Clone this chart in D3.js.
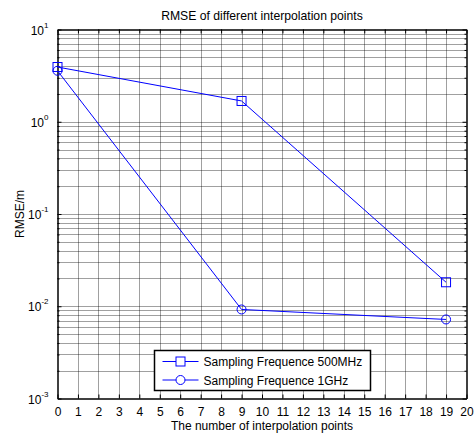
<!DOCTYPE html>
<head>
<meta charset="utf-8">
<script src="https://d3js.org/d3.v7.min.js"></script>
<style>
  body { margin: 0; background: #fff; font-family: "Liberation Sans", Arial, sans-serif; }
  .grid line { stroke: #000; stroke-width: 1px; stroke-dasharray: 1,1; stroke-opacity: 0.75; }
  .axis text { font-size: 12px; fill: #000; }
</style>
</head>
<body>
<div id="chart"></div>
<script>
  // data
  var xPoints = [0, 9, 19];
  var rmse500MHz = [3.92, 1.68, 0.0182];
  var rmse1GHz = [3.57, 0.00923, 0.00719];
  var xTicks = d3.range(0, 21);
  var yDecades = [-3, -2, -1, 0, 1];
  var seriesNames = ["Sampling Frequence 500MHz", "Sampling Frequence 1GHz"];

  var width = 475, height = 435;
  var margin = { top: 29.5, right: 8.5, bottom: 36.5, left: 57.5 };

  var svg = d3.select("#chart").append("svg")
      .attr("width", width)
      .attr("height", height);

  var x = d3.scaleLinear().domain([0, 20]).range([margin.left, width - margin.right]);
  var y = d3.scaleLog().domain([1e-3, 10]).range([height - margin.bottom, margin.top]);

  // minor values 2..9 in each decade
  var minor = [];
  yDecades.slice(0, -1).forEach(function (e) {
    for (var k = 2; k <= 9; k++) minor.push(k * Math.pow(10, e));
  });
  var major = yDecades.map(function (e) { return Math.pow(10, e); });

  var grid = svg.append("g").attr("class", "grid");
  grid.selectAll(".v").data(xTicks.slice(1, -1)).enter().append("line")
      .attr("x1", function (d) { return Math.round(x(d)) + 0.5; })
      .attr("x2", function (d) { return Math.round(x(d)) + 0.5; })
      .attr("y1", y(10)).attr("y2", y(1e-3));
  grid.selectAll(".h").data(minor.concat(major.slice(1, -1))).enter().append("line")
      .attr("y1", function (d) { return Math.round(y(d)) + 0.5; })
      .attr("y2", function (d) { return Math.round(y(d)) + 0.5; })
      .attr("x1", x(0)).attr("x2", x(20));

  // axes with inward ticks
  svg.append("g").attr("class", "axis")
      .attr("transform", "translate(0," + y(1e-3) + ")")
      .call(d3.axisBottom(x).tickValues(xTicks).tickSizeInner(-4).tickSizeOuter(0).tickPadding(9).tickFormat(d3.format("d")));
  svg.append("g").attr("class", "axis")
      .attr("transform", "translate(0," + y(10) + ")")
      .call(d3.axisTop(x).tickValues(xTicks).tickSizeInner(-4).tickSizeOuter(0).tickFormat(""));

  var yAxisL = svg.append("g").attr("class", "axis")
      .attr("transform", "translate(" + x(0) + ",0)")
      .call(d3.axisLeft(y).tickValues(major.concat(minor)).tickSizeOuter(0).tickFormat(""));
  yAxisL.selectAll(".tick line").attr("x2", function (d) { return major.indexOf(d) >= 0 ? 4 : 2; });
  var yAxisR = svg.append("g").attr("class", "axis")
      .attr("transform", "translate(" + x(20) + ",0)")
      .call(d3.axisRight(y).tickValues(major.concat(minor)).tickSizeOuter(0).tickFormat(""));
  yAxisR.selectAll(".tick line").attr("x2", function (d) { return major.indexOf(d) >= 0 ? -4 : -2; });
  svg.selectAll(".axis .domain").attr("stroke", "#000").attr("stroke-width", 1.5);

  // y tick labels as 10^n
  var yl = svg.append("g").attr("class", "axis");
  yDecades.forEach(function (e) {
    var t = yl.append("text")
        .attr("x", x(0) - 9)
        .attr("y", y(Math.pow(10, e)) + 5)
        .attr("text-anchor", "end")
        .attr("font-size", 12.5);
    t.append("tspan").text("10");
    t.append("tspan").attr("dy", -7).attr("font-size", 8).text(e);
  });

  // lines
  var line = d3.line().x(function (d) { return x(d[0]); }).y(function (d) { return y(d[1]); });
  var s1 = xPoints.map(function (v, i) { return [v, rmse500MHz[i]]; });
  var s2 = xPoints.map(function (v, i) { return [v, rmse1GHz[i]]; });

  svg.append("path").datum(s1).attr("d", line).attr("fill", "none").attr("stroke", "#0000ff").attr("stroke-width", 1);
  svg.append("path").datum(s2).attr("d", line).attr("fill", "none").attr("stroke", "#0000ff").attr("stroke-width", 1);

  svg.selectAll(".sq").data(s1).enter().append("rect")
      .attr("x", function (d) { return x(d[0]) - 4.5; })
      .attr("y", function (d) { return y(d[1]) - 4.5; })
      .attr("width", 9).attr("height", 9)
      .attr("fill", "none").attr("stroke", "#0000ff");
  svg.selectAll(".ci").data(s2).enter().append("circle")
      .attr("cx", function (d) { return x(d[0]); })
      .attr("cy", function (d) { return y(d[1]); })
      .attr("r", 4.5)
      .attr("fill", "none").attr("stroke", "#0000ff");

  // title and labels
  svg.append("text").attr("x", (x(0) + x(20)) / 2).attr("y", 20)
      .attr("text-anchor", "middle").attr("font-size", 12.2).text("RMSE of different interpolation points");
  svg.append("text").attr("x", (x(0) + x(20)) / 2).attr("y", 430)
      .attr("text-anchor", "middle").attr("font-size", 12).text("The number of interpolation points");
  svg.append("text").attr("transform", "translate(24," + (y(1e-3) + y(10)) / 2 + ") rotate(-90)")
      .attr("text-anchor", "middle").attr("font-size", 12).text("RMSE/m");

  // legend
  var lg = svg.append("g").attr("transform", "translate(154.5,350.5)");
  lg.append("rect").attr("width", 216).attr("height", 40).attr("fill", "#fff").attr("stroke", "#000").attr("stroke-width", 1.5);
  seriesNames.forEach(function (name, i) {
    var cy = 11 + i * 18.5;
    lg.append("line").attr("x1", 8).attr("x2", 44).attr("y1", cy).attr("y2", cy).attr("stroke", "#0000ff");
    if (i === 0) {
      lg.append("rect").attr("x", 26 - 4.5).attr("y", cy - 4.5).attr("width", 9).attr("height", 9)
          .attr("fill", "#fff").attr("stroke", "#0000ff");
    } else {
      lg.append("circle").attr("cx", 26).attr("cy", cy).attr("r", 4.5)
          .attr("fill", "#fff").attr("stroke", "#0000ff");
    }
    lg.append("text").attr("x", 49).attr("y", cy + 4.5).attr("font-size", 12).text(name);
  });
</script>
</body>
